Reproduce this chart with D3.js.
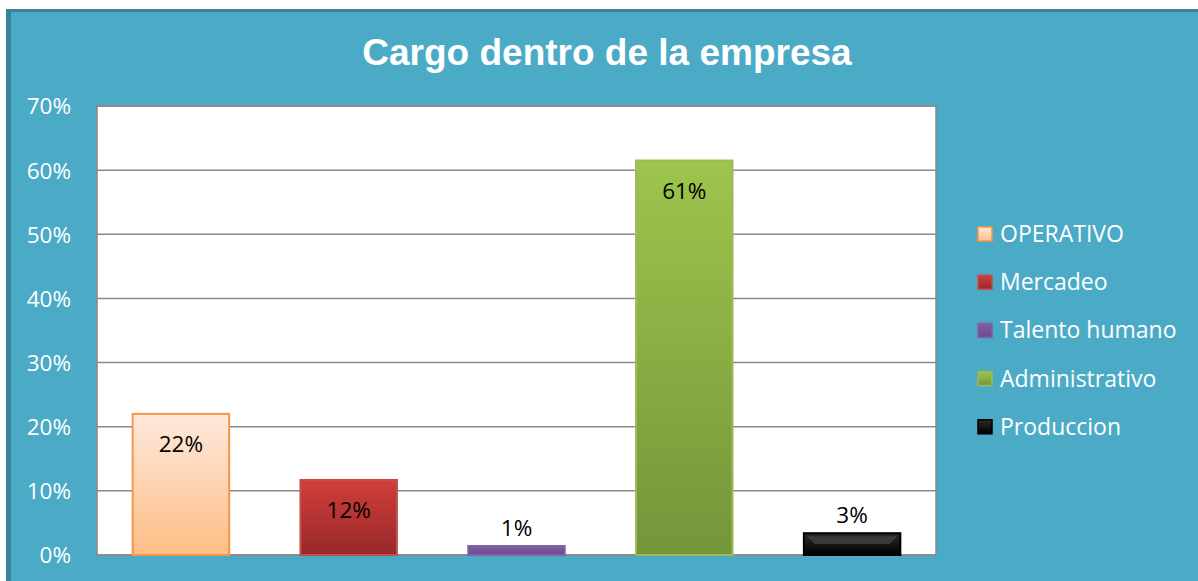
<!DOCTYPE html>
<html>
<head>
<meta charset="utf-8">
<script src="https://cdn.jsdelivr.net/npm/d3@7"></script>
<style>
  html, body { margin: 0; padding: 0; background: #fff; }
  svg { display: block; }
  text { font-family: "Open Sans", Lato, sans-serif; }
</style>
</head>
<body>
<div id="chart"></div>
<script>
var categories = ["OPERATIVO", "Mercadeo", "Talento humano", "Administrativo", "Produccion"];
var values = [0.22, 0.117, 0.014, 0.615, 0.034];
var labels = ["22%", "12%", "1%", "61%", "3%"];
var yTicks = [0, 0.1, 0.2, 0.3, 0.4, 0.5, 0.6, 0.7];
var labelInside = [true, true, false, true, false];

// fill: [top, bottom, stroke]
var palette = [
	["#fee9dc", "#fdbd86", "#f79646"],
	["#d13e3b", "#98292a", "#c0504d"],
	["#8060a8", "#6c4790", "#8064a2"],
	["#9dc54c", "#74953a", "#9bbb59"],
	["#2a2a2a", "#000000", "#000000"]
];

(function() {
	var width = 1198, height = 581;
	var margin = { top: 106, right: 262, bottom: 26, left: 97 };
	var plotW = width - margin.left - margin.right,
		plotH = height - margin.top - margin.bottom;

	var svg = d3.select("#chart").append("svg")
		.attr("width", width)
		.attr("height", height);

	var defs = svg.append("defs");
	palette.forEach(function(p, i) {
		var g = defs.append("linearGradient")
			.attr("id", "grad" + i)
			.attr("x1", 0).attr("y1", 0).attr("x2", 0).attr("y2", 1);
		g.append("stop").attr("offset", "0%").attr("stop-color", p[0]);
		g.append("stop").attr("offset", "100%").attr("stop-color", p[1]);
	});

	// chart background + border
	svg.append("rect")
		.attr("x", 6).attr("y", 9)
		.attr("width", width).attr("height", height)
		.attr("fill", "#3b8399");
	svg.append("rect")
		.attr("x", 11).attr("y", 12)
		.attr("width", width).attr("height", height)
		.attr("fill", "#4babc6");

	svg.append("text")
		.attr("x", 607).attr("y", 65)
		.attr("text-anchor", "middle")
		.attr("fill", "#fff")
		.style("font-family", "'Liberation Sans', Arial, sans-serif")
		.style("font-weight", "bold")
		.style("font-size", "37px")
		.text("Cargo dentro de la empresa");

	var x = d3.scaleBand()
		.domain(categories)
		.range([0, plotW])
		.paddingInner(0.425)
		.paddingOuter(0.2125);

	var y = d3.scaleLinear()
		.domain([0, 0.7])
		.range([plotH, 0]);

	var g = svg.append("g")
		.attr("transform", "translate(" + margin.left + "," + margin.top + ")");

	g.append("rect")
		.attr("width", plotW).attr("height", plotH)
		.attr("fill", "#fff")
		.attr("stroke", "#888")
		.attr("stroke-width", 1.5);

	g.selectAll("line.grid")
		.data(yTicks)
		.join("line")
		.attr("class", "grid")
		.attr("x1", 0).attr("x2", plotW)
		.attr("y1", function(d) { return y(d); })
		.attr("y2", function(d) { return y(d); })
		.attr("stroke", "#8a8a8a")
		.attr("stroke-width", 1.5);

	var yAxis = g.append("g")
		.call(d3.axisLeft(y).tickValues(yTicks).tickFormat(d3.format(".0%")).tickSize(0).tickPadding(26));
	yAxis.select(".domain").remove();
	yAxis.selectAll("text")
		.attr("fill", "#fff")
		.style("font-size", "22.5px")
		.attr("dy", "0.35em");

	var data = categories.map(function(c, i) {
		return { cat: c, value: values[i], label: labels[i], i: i };
	});

	var bars = g.selectAll("g.bar")
		.data(data)
		.join("g")
		.attr("class", "bar");

	bars.append("rect")
		.attr("x", function(d) { return x(d.cat); })
		.attr("y", function(d) { return y(d.value); })
		.attr("width", x.bandwidth())
		.attr("height", function(d) { return plotH - y(d.value); })
		.attr("fill", function(d) { return "url(#grad" + d.i + ")"; })
		.attr("stroke", function(d) { return palette[d.i][2]; })
		.attr("stroke-width", 2);

	// bevel on the black bar
	var pb = data[4];
	var bx = x(pb.cat), by = y(pb.value), bw = x.bandwidth(), bh = plotH - y(pb.value);
	bars.filter(function(d) { return d.i === 4; })
		.append("path")
		.attr("d", "M" + (bx + 3) + "," + (by + 3) + "L" + (bx + 11) + "," + (by + bh / 2) +
			"L" + (bx + bw - 11) + "," + (by + bh / 2) + "L" + (bx + bw - 3) + "," + (by + 3) + "Z")
		.attr("fill", "#3a3a3a");

	bars.append("text")
		.attr("x", function(d) { return x(d.cat) + x.bandwidth() / 2; })
		.attr("y", function(d) {
			return labelInside[d.i] ? y(d.value) + 38 : y(d.value) - 10;
		})
		.attr("text-anchor", "middle")
		.attr("fill", "#000")
		.style("font-size", "22.5px")
		.text(function(d) { return d.label; });

	// legend
	var legend = svg.append("g")
		.attr("transform", "translate(978,234)");
	var item = legend.selectAll("g")
		.data(data)
		.join("g")
		.attr("transform", function(d) { return "translate(0," + (d.i * 48.2) + ")"; });
	item.append("rect")
		.attr("x", 0).attr("y", -7)
		.attr("width", 14).attr("height", 14)
		.attr("fill", function(d) { return "url(#grad" + d.i + ")"; })
		.attr("stroke", function(d) { return palette[d.i][2]; })
		.attr("stroke-width", 1.5);
	item.append("text")
		.attr("x", 22).attr("y", 0)
		.attr("dy", "0.35em")
		.attr("fill", "#fff")
		.style("font-size", "23px")
		.text(function(d) { return d.cat; });
})();
</script>
</body>
</html>
